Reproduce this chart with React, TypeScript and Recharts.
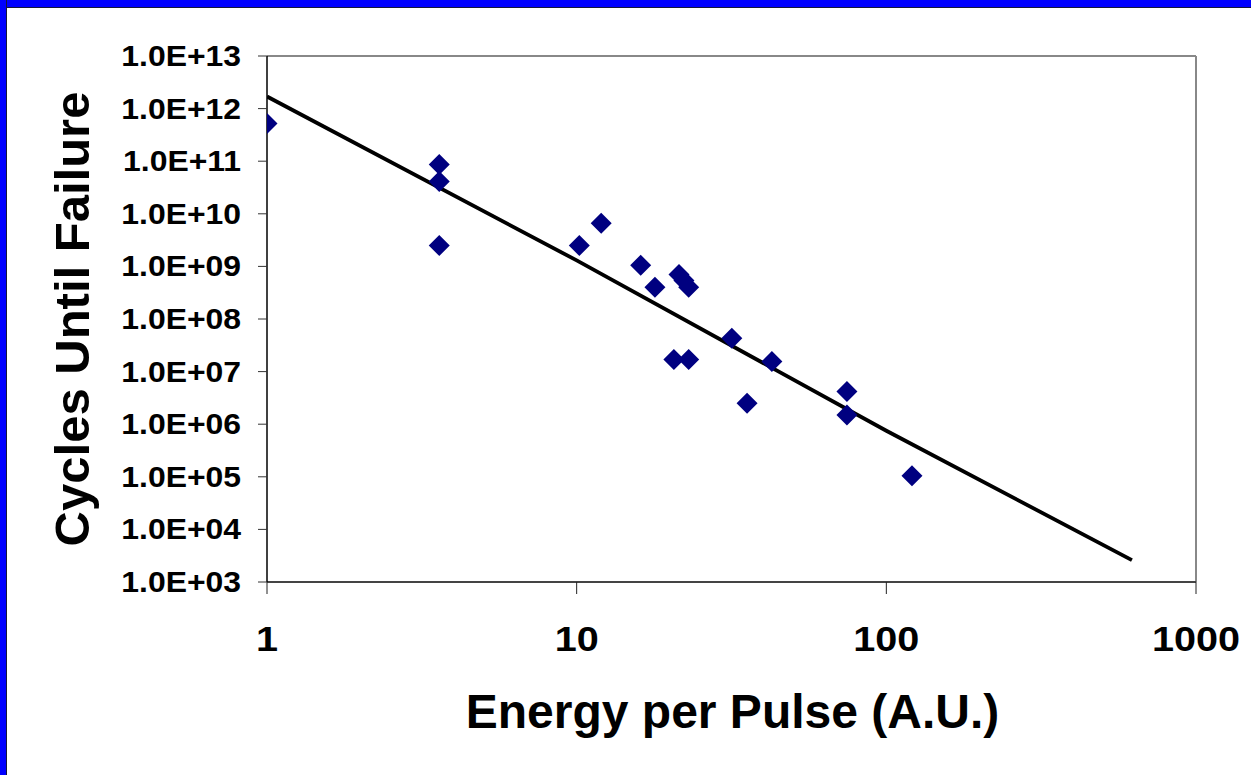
import React from "react";
import { ComposedChart, Scatter, XAxis, YAxis, ReferenceLine, Label } from "recharts";

// measured points (energy per pulse, cycles until failure)
const energy = [1, 3.6, 3.6, 3.6, 10.2, 12.0, 16.1, 17.9, 21.4, 22.2, 23.0, 20.6, 23.0, 31.7, 35.5, 42.7, 74.6, 74.6, 121];
const cycles = [5.2e11, 8.7e10, 4.1e10, 2.5e9, 2.5e9, 6.6e9, 1.05e9, 4.0e8, 7.0e8, 5.4e8, 4.0e8, 1.7e7, 1.7e7, 4.3e7, 2.5e6, 1.55e7, 4.2e6, 1.5e6, 1.05e5];

// trend line
const fitEnergy = [1, 10, 100, 621];
const fitCycles = [1.7e12, 1.3e9, 7.5e5, 2.6e3];

const xTicks = [1, 10, 100, 1000];
const xTickLabels = ["1", "10", "100", "1000"];
const yTicks = [1e3, 1e4, 1e5, 1e6, 1e7, 1e8, 1e9, 1e10, 1e11, 1e12, 1e13];
const yTickLabels = [
  "1.0E+03", "1.0E+04", "1.0E+05", "1.0E+06", "1.0E+07", "1.0E+08",
  "1.0E+09", "1.0E+10", "1.0E+11", "1.0E+12", "1.0E+13",
];

const points = energy.map((x, i) => ({ x, y: cycles[i] }));
const fit = fitEnergy.map((x, i) => ({ x, y: fitCycles[i] }));

const FONT = '"Liberation Sans", Arial, Helvetica, sans-serif';

function Diamond(props: any) {
  const { cx, cy } = props;
  const r = 10.5;
  return (
    <polygon
      points={`${cx},${cy - r} ${cx + r},${cy} ${cx},${cy + r} ${cx - r},${cy}`}
      fill="#000080"
    />
  );
}

function YTick(props: any) {
  const { y, payload } = props;
  const label = yTickLabels[yTicks.indexOf(payload.value)] ?? "";
  return (
    <g transform={`translate(241,${y + 10}) scale(1.1,1)`}>
      <text x={0} y={0} textAnchor="end" fontFamily={FONT} fontWeight="bold" fontSize={29} fill="#000">
        {label}
      </text>
    </g>
  );
}

function XTick(props: any) {
  const { x, payload } = props;
  const label = xTickLabels[xTicks.indexOf(payload.value)] ?? "";
  return (
    <g transform={`translate(${x},651) scale(1.1,1)`}>
      <text x={0} y={0} textAnchor="middle" fontFamily={FONT} fontWeight="bold" fontSize={36} fill="#000">
        {label}
      </text>
    </g>
  );
}

export default function App() {
  return (
    <div style={{ position: "fixed", left: 0, top: 0, width: 1251, height: 775, background: "#fff" }}>
      <ComposedChart
        width={1251}
        height={775}
        margin={{ top: 56, right: 55, bottom: 0, left: 0 }}
      >
        <XAxis
          type="number"
          dataKey="x"
          scale="log"
          domain={[1, 1000]}
          ticks={xTicks}
          allowDataOverflow
          height={193}
          tickSize={12}
          tick={<XTick />}
          axisLine={{ stroke: "#444", strokeWidth: 2 }}
          tickLine={{ stroke: "#222", strokeWidth: 1 }}
        >
          <Label
            content={(p: any) => {
              const vb = p.viewBox || { x: 267, y: 582, width: 929 };
              return (
                <text
                  x={vb.x + vb.width / 2 + 1}
                  y={vb.y + 146}
                  textAnchor="middle"
                  fontFamily={FONT}
                  fontWeight="bold"
                  fontSize={48}
                  fill="#000"
                >
                  Energy per Pulse (A.U.)
                </text>
              );
            }}
          />
        </XAxis>
        <YAxis
          type="number"
          dataKey="y"
          scale="log"
          domain={[1e3, 1e13]}
          ticks={yTicks}
          allowDataOverflow
          width={267}
          tickSize={9}
          tick={<YTick />}
          axisLine={{ stroke: "#000", strokeWidth: 1.5 }}
          tickLine={{ stroke: "#333", strokeWidth: 1 }}
        >
          <Label
            content={(p: any) => {
              const vb = p.viewBox || { x: 0, y: 56, height: 526 };
              const cx = vb.x + 89;
              const cy = vb.y + vb.height / 2;
              return (
                <text
                  x={cx}
                  y={cy}
                  transform={`rotate(-90,${cx},${cy})`}
                  textAnchor="middle"
                  fontFamily={FONT}
                  fontWeight="bold"
                  fontSize={49}
                  fill="#000"
                >
                  Cycles Until Failure
                </text>
              );
            }}
          />
        </YAxis>
        <ReferenceLine y={1e13} stroke="#888" strokeWidth={2} />
        <ReferenceLine x={1000} stroke="#888" strokeWidth={2} />
        <Scatter
          data={fit}
          line={{ stroke: "#000", strokeWidth: 3.8 }}
          shape={() => <g />}
          isAnimationActive={false}
        />
        <Scatter data={points} shape={<Diamond />} isAnimationActive={false} />
      </ComposedChart>
      <div style={{ position: "absolute", left: 0, top: 0, width: 1251, height: 7, background: "#0000ff", borderBottom: "1.5px solid #15153a" }} />
      <div style={{ position: "absolute", left: 0, top: 0, width: 6, height: 775, background: "#0000ff", borderRight: "1px solid #15153a" }} />
    </div>
  );
}
